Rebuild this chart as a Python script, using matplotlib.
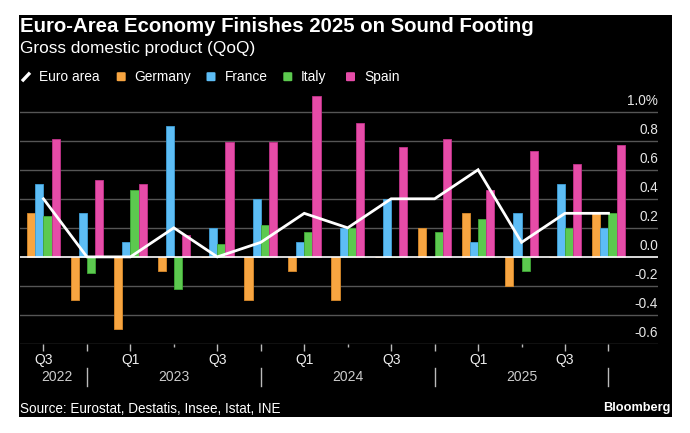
import matplotlib
matplotlib.use("Agg")
import matplotlib.pyplot as plt
import numpy as np
from matplotlib.patches import Rectangle, FancyBboxPatch
from matplotlib.lines import Line2D
import matplotlib.transforms as mtransforms

plt.rcParams['font.family'] = ['Liberation Sans', 'DejaVu Sans']

quarters = ["Q3 2022", "Q4 2022", "Q1 2023", "Q2 2023", "Q3 2023", "Q4 2023",
            "Q1 2024", "Q2 2024", "Q3 2024", "Q4 2024", "Q1 2025", "Q2 2025",
            "Q3 2025", "Q4 2025"]
euro_area = [0.4, 0.0, 0.0, 0.2, 0.0, 0.1, 0.3, 0.2, 0.4, 0.4, 0.6, 0.1, 0.3, 0.3]
germany = [0.3, -0.3, -0.5, -0.1, 0.0, -0.3, -0.1, -0.3, 0.0, 0.2, 0.3, -0.2, 0.0, 0.3]
france = [0.5, 0.3, 0.1, 0.9, 0.2, 0.4, 0.1, 0.2, 0.4, 0.0, 0.1, 0.3, 0.5, 0.2]
italy = [0.28, -0.11, 0.46, -0.22, 0.09, 0.22, 0.17, 0.2, 0.0, 0.17, 0.26, -0.1, 0.2, 0.3]
spain = [0.81, 0.53, 0.5, 0.15, 0.79, 0.79, 1.11, 0.92, 0.76, 0.81, 0.46, 0.73, 0.64, 0.77]
ytick_vals = [-0.6, -0.4, -0.2, 0.0, 0.2, 0.4, 0.6, 0.8, 1.0]
ytick_labels = ["-0.6", "-0.4", "-0.2", "0.0", "0.2", "0.4", "0.6", "0.8", "1.0%"]
xtick_labels = {0: "Q3", 2: "Q1", 4: "Q3", 6: "Q1", 8: "Q3", 10: "Q1", 12: "Q3"}
years = ["2022", "2023", "2024", "2025"]
year_pos = [0.3, 3, 7, 11]
year_seps = [1, 5, 9, 13]

series = [("Germany", germany, "#F7A541", "#d98a2a"),
          ("France", france, "#5DBDF5", "#3f9fd8"),
          ("Italy", italy, "#5CC94F", "#3fa836"),
          ("Spain", spain, "#E64CA8", "#c2328a")]

W, H = 690, 433
fig = plt.figure(figsize=(W / 100, H / 100), dpi=100, facecolor="white")
renderer = fig.canvas.get_renderer()

def fx(px):
    return px / W

def fy(py):
    return 1 - py / H

def fit_text(t, target_px):
    bb = t.get_window_extent(renderer=renderer)
    t.set_fontsize(t.get_fontsize() * target_px / bb.width)
    return t

# black panel
fig.patches.append(Rectangle((fx(19.3), fy(417)), fx(672.3) - fx(19.3), fy(15) - fy(417),
                             transform=fig.transFigure, facecolor="black",
                             edgecolor="none", zorder=-5))

ytop = 1.15
ax_top_px = 257 - ytop * 145.3
ax = fig.add_axes([fx(20), fy(344), fx(658) - fx(20), fy(ax_top_px) - fy(344)])
ax.patch.set_alpha(0)
for s in ax.spines.values():
    s.set_visible(False)

x = np.arange(len(quarters))
bw = 0.188
offsets = [-1.5, -0.5, 0.5, 1.5]
for (name, vals, col, ecol), off in zip(series, offsets):
    ax.bar(x + off * bw, vals, width=bw, color=col, edgecolor=ecol,
           linewidth=0.6, zorder=3)

ax.plot(x, euro_area, color="white", linewidth=2, zorder=4, solid_joinstyle="miter")

ax.set_xlim(-0.54, 14.14)
ax.set_ylim(-0.6, ytop)

# gridlines and labels
for v, lab in zip(ytick_vals, ytick_labels):
    if v == 0:
        ax.axhline(v, color="white", linewidth=1.2, zorder=5)
    else:
        ax.axhline(v, color="#555555", linewidth=1.0, zorder=1)
    ax.annotate(lab, xy=(1.0, v), xycoords=("axes fraction", "data"),
                xytext=(0, 3), textcoords="offset points", ha="right", va="bottom",
                color="#e6e6e6", fontsize=9.8, zorder=6)
ax.set_yticks([])

# x ticks
major = [i for i in range(len(quarters)) if i % 4 != 3]
minor = [i for i in range(len(quarters)) if i % 4 == 3]
ax.set_xticks(major)
ax.set_xticklabels([xtick_labels.get(i, "") for i in major])
ax.set_xticks(minor, minor=True)
ax.tick_params(axis="x", which="major", length=5, width=1, color="#bbbbbb",
               labelcolor="#eeeeee", labelsize=10, pad=1.5)
ax.tick_params(axis="x", which="minor", length=2.5, width=1, color="#bbbbbb")

trans = mtransforms.blended_transform_factory(ax.transData, ax.transAxes)
yr_y = (344 - 377) / (344 - ax_top_px)
for yl, p in zip(years, year_pos):
    ax.text(p, yr_y, yl, transform=trans, ha="center", va="center",
            color="#cccccc", fontsize=10, clip_on=False)
for p in year_seps:
    ax.plot([p, p], [yr_y - 0.035, yr_y + 0.035], transform=trans, color="#bbbbbb",
            linewidth=1, clip_on=False)

# title and subtitle
t = fig.text(fx(20.5), fy(27), "Euro-Area Economy Finishes 2025 on Sound Footing",
             ha="left", va="center", color="white", fontsize=13, fontweight="bold")
fit_text(t, 515)
t = fig.text(fx(20.5), fy(48), "Gross domestic product (QoQ)", ha="left", va="center",
             color="white", fontsize=12)
fit_text(t, 235)

# legend
ly = 76.7
fig.lines.append(Line2D([fx(22), fx(30)], [fy(ly + 4.5), fy(ly - 4)],
                        transform=fig.transFigure, color="white", linewidth=2.4,
                        solid_capstyle="butt"))
t = fig.text(fx(39.3), fy(ly), "Euro area", ha="left", va="center", color="white",
             fontsize=10.5)
fit_text(t, 61)
leg_fs = t.get_fontsize()
leg_items = [("Germany", "#F7A541", 116.7, 134.3),
             ("France", "#5DBDF5", 206.5, 225),
             ("Italy", "#5CC94F", 283.3, 301),
             ("Spain", "#E64CA8", 346, 364.3)]
for name, col, sx, tx in leg_items:
    fig.patches.append(FancyBboxPatch((fx(sx), fy(ly + 4.5)), fx(9), 9 / H,
                                      boxstyle="round,pad=0,rounding_size=0.002",
                                      transform=fig.transFigure, facecolor=col,
                                      edgecolor="none"))
    fig.text(fx(tx), fy(ly), name, ha="left", va="center", color="white",
             fontsize=leg_fs)

# footer
t = fig.text(fx(20), fy(409), "Source: Eurostat, Destatis, Insee, Istat, INE", ha="left",
             va="center", color="white", fontsize=10.5)
fit_text(t, 263)
t = fig.text(fx(670), fy(408), "Bloomberg", ha="right", va="center", color="white",
             fontsize=10.5, fontweight="bold")
fit_text(t, 68)

fig.savefig("out.png", dpi=100, facecolor="white")
